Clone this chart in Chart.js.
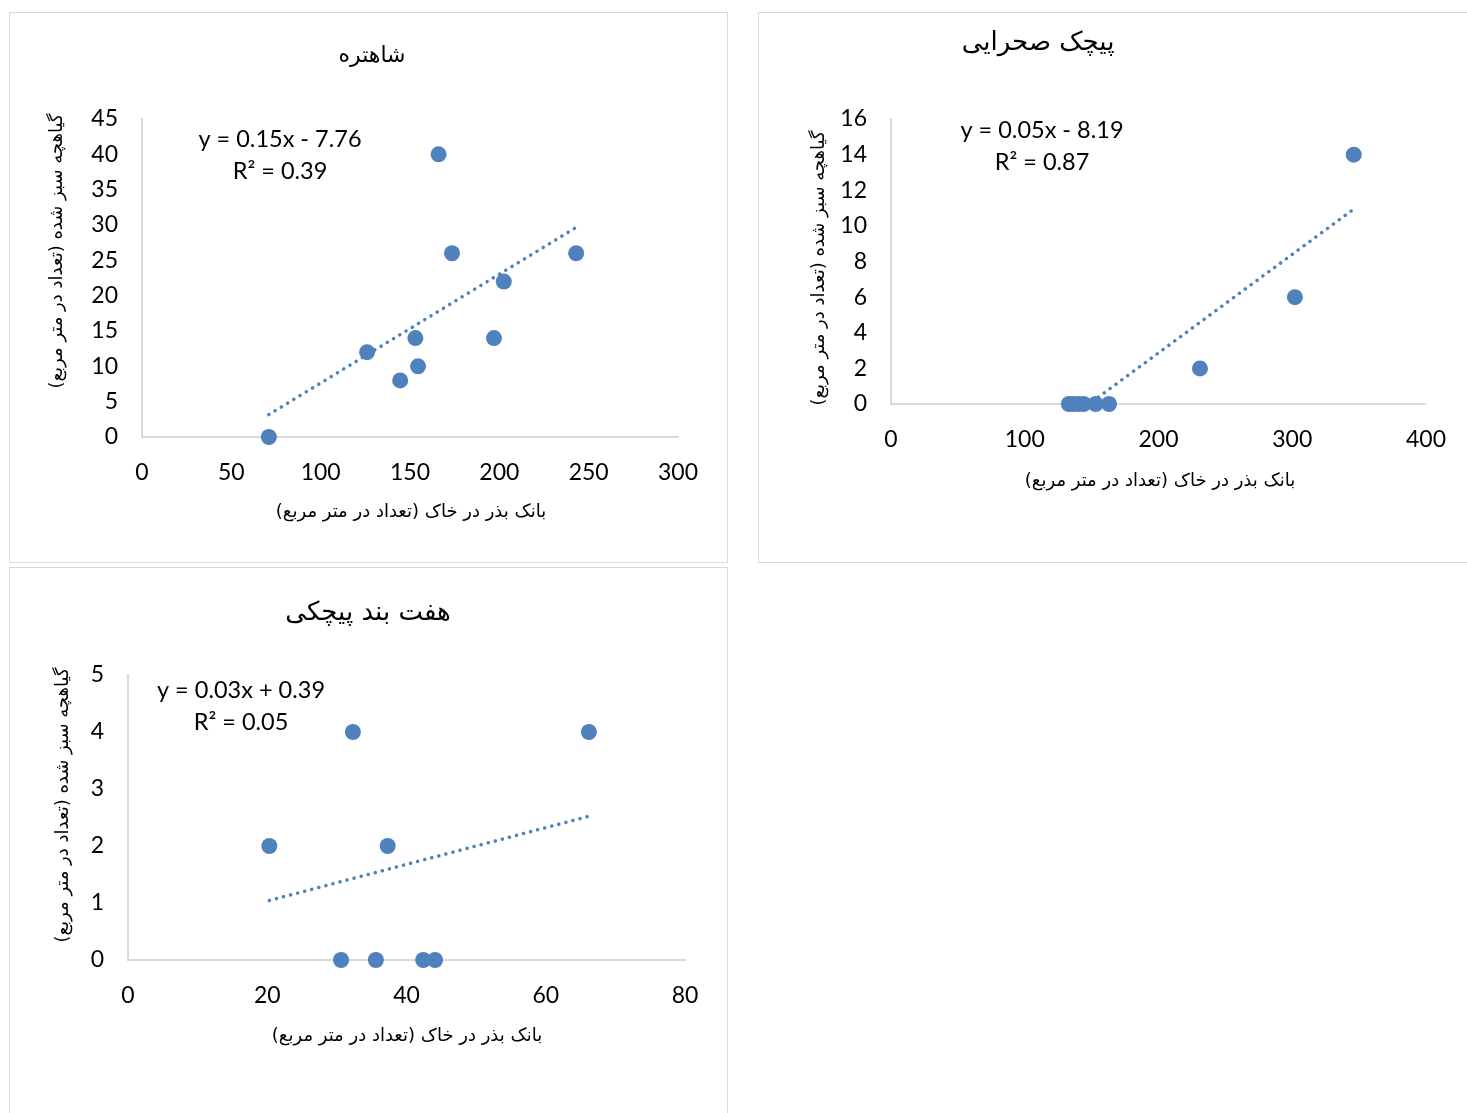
<!DOCTYPE html>
<html lang="fa">
<head>
  <meta charset="UTF-8" />
  <title>بانک بذر و گیاهچه</title>
  <script src="https://cdn.jsdelivr.net/npm/chart.js"></script>
  <style>
    body { margin: 0; background: #fff; width: 1467px; height: 1113px; position: relative; overflow: hidden; }
    .panel { position: absolute; border: 1px solid #d9d9d9; box-sizing: border-box; background: #fff; }
    .panel canvas { position: absolute; left: 0; top: 0; }
  </style>
</head>
<body>
  <div class="panel" style="left:9px; top:12px; width:719px; height:551px;"><canvas id="c1" width="719" height="551"></canvas></div>
  <div class="panel" style="left:758px; top:12px; width:720px; height:551px;"><canvas id="c2" width="709" height="551"></canvas></div>
  <div class="panel" style="left:9px; top:567px; width:719px; height:560px;"><canvas id="c3" width="719" height="546"></canvas></div>

  <script>
    // شاهتره
    const shahX = [71, 126, 144.5, 153, 154.5, 166, 173.5, 197, 202.5, 243];
    const shahY = [0, 12, 8, 14, 10, 40, 26, 14, 22, 26];
    const shahTrend = [0.154, -7.76];
    const shahEq = ['y = 0.15x - 7.76', 'R² = 0.39'];
    const shahXTicks = [0, 300, 50];
    const shahYTicks = [0, 45, 5];

    // پیچک صحرایی
    const pichX = [133, 136, 140, 144, 153, 163, 231, 302, 346];
    const pichY = [0, 0, 0, 0, 0, 0, 2, 6, 14];
    const pichTrend = [0.0553, -8.19];
    const pichEq = ['y = 0.05x - 8.19', 'R² = 0.87'];
    const pichXTicks = [0, 400, 100];
    const pichYTicks = [0, 16, 2];

    // هفت بند پیچکی
    const haftX = [20.3, 30.6, 32.3, 35.6, 37.3, 42.4, 44.1, 66.2];
    const haftY = [2, 0, 4, 0, 2, 0, 0, 4];
    const haftTrend = [0.0322, 0.39];
    const haftEq = ['y = 0.03x + 0.39', 'R² = 0.05'];
    const haftXTicks = [0, 80, 20];
    const haftYTicks = [0, 5, 1];

    const xTitle = 'بانک بذر در خاک (تعداد در متر مربع)';
    const yTitle = 'گیاهچه سبز شده (تعداد در متر مربع)';

    const blue = '#4f81bd';
    const axisGray = '#d9d9d9';
    const numFont = 'Lato, "Open Sans", sans-serif';
    const faFont = '"DejaVu Sans", sans-serif';

    // labels drawn on top of the chart: title, axis titles and the trend equation
    const textPlugin = {
      id: 'texts',
      afterDraw(chart) {
        const o = chart.options.plugins.texts;
        const ctx = chart.ctx;
        ctx.save();
        ctx.fillStyle = '#000';
        ctx.textAlign = 'center';
        ctx.textBaseline = 'middle';

        ctx.font = o.titleSize + 'px ' + faFont;
        ctx.fillText(o.title, o.titlePos[0], o.titlePos[1]);

        ctx.font = '18px ' + faFont;
        ctx.fillText(xTitle, o.xTitlePos[0], o.xTitlePos[1]);

        ctx.save();
        ctx.translate(o.yTitlePos[0], o.yTitlePos[1]);
        ctx.rotate(-Math.PI / 2);
        ctx.fillText(yTitle, 0, 0);
        ctx.restore();

        ctx.font = '23.5px ' + numFont;
        ctx.fillText(o.eq[0], o.eqPos[0], o.eqPos[1]);
        ctx.fillText(o.eq[1], o.eqPos[0], o.eqPos[1] + 32);
        ctx.restore();
      }
    };

    function makeChart(id, xs, ys, trend, xt, yt, box, texts) {
      const canvas = document.getElementById(id);
      const w = canvas.width, h = canvas.height;
      const pts = xs.map((x, i) => ({ x: x, y: ys[i] }));
      const x0 = Math.min(...xs), x1 = Math.max(...xs);
      const trendPts = [
        { x: x0, y: trend[0] * x0 + trend[1] },
        { x: x1, y: trend[0] * x1 + trend[1] }
      ];

      return new Chart(canvas, {
        type: 'scatter',
        data: {
          datasets: [
            {
              data: pts,
              backgroundColor: blue,
              borderColor: blue,
              pointRadius: 8,
              pointHoverRadius: 8,
              borderWidth: 0,
              clip: false
            },
            {
              type: 'line',
              data: trendPts,
              showLine: true,
              borderColor: blue,
              borderWidth: 3.5,
              borderDash: [0.1, 7.2],
              borderCapStyle: 'round',
              pointRadius: 0,
              fill: false
            }
          ]
        },
        options: {
          responsive: false,
          animation: false,
          devicePixelRatio: 1,
          layout: {
            padding: { left: 0, top: box.top, right: w - box.right, bottom: 0 }
          },
          plugins: {
            legend: { display: false },
            tooltip: { enabled: false },
            texts: texts
          },
          scales: {
            x: {
              type: 'linear',
              min: xt[0], max: xt[1],
              afterFit: (s) => { s.height = h - box.bottom; },
              grid: { display: false, drawTicks: false },
              border: { display: true, color: axisGray, width: 2 },
              ticks: { stepSize: xt[2], padding: 22, color: '#000', font: { family: numFont, size: 23 } }
            },
            y: {
              type: 'linear',
              min: yt[0], max: yt[1],
              afterFit: (s) => { s.width = box.left; },
              grid: { display: false, drawTicks: false },
              border: { display: true, color: axisGray, width: 2 },
              ticks: { stepSize: yt[2], padding: 24, color: '#000', font: { family: numFont, size: 23 } }
            }
          }
        },
        plugins: [textPlugin]
      });
    }

    // box values are plot-area edges in canvas pixels
    makeChart('c1', shahX, shahY, shahTrend, shahXTicks, shahYTicks,
      { left: 132, right: 668, top: 106, bottom: 424 },
      { title: 'شاهتره', titleSize: 22, titlePos: [362, 43], xTitlePos: [401, 499], yTitlePos: [47, 238],
        eq: shahEq, eqPos: [270, 126] });

    makeChart('c2', pichX, pichY, pichTrend, pichXTicks, pichYTicks,
      { left: 132, right: 668, top: 106, bottom: 391 },
      { title: 'پیچک صحرایی', titleSize: 26, titlePos: [279, 30], xTitlePos: [401, 468], yTitlePos: [60, 255],
        eq: pichEq, eqPos: [283, 117] });

    makeChart('c3', haftX, haftY, haftTrend, haftXTicks, haftYTicks,
      { left: 118, right: 675, top: 107, bottom: 392 },
      { title: 'هفت بند پیچکی', titleSize: 26, titlePos: [358, 45], xTitlePos: [397, 468], yTitlePos: [53, 237],
        eq: haftEq, eqPos: [231, 122] });
  </script>
</body>
</html>
